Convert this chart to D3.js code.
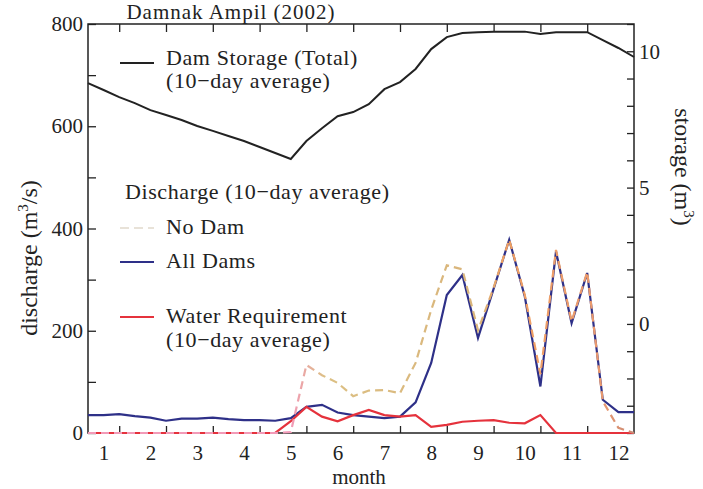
<!DOCTYPE html>
<html>
<head>
<meta charset="utf-8">
<script src="https://cdn.jsdelivr.net/npm/d3@7/dist/d3.min.js"></script>
<style>
  body { margin: 0; background: #fff; }
  svg { display: block; font-family: "Liberation Serif", "Times New Roman", serif; }
</style>
</head>
<body>
<svg id="chart"></svg>
<script>
// ── Data: 36 ten-day periods, Jan..Dec ────────────────────────────────────────
const period   = d3.range(1, 37);
const months   = ['1','2','3','4','5','6','7','8','9','10','11','12'];
const storage  = [8.83, 8.58, 8.32, 8.10, 7.84, 7.66, 7.48, 7.26, 7.08, 6.89, 6.71, 6.49,
                  6.27, 6.05, 6.71, 7.18, 7.62, 7.77, 8.06, 8.61, 8.87, 9.35, 10.08, 10.52,
                  10.67, 10.70, 10.72, 10.72, 10.72, 10.63, 10.70, 10.70, 10.70, 10.41, 10.12, 9.79];
const allDams  = [35, 35, 37, 33, 30, 24, 28, 28, 30, 27, 25, 25,
                  24, 29, 51, 55, 40, 35, 32, 29, 32, 60, 137, 270,
                  309, 186, 282, 378, 267, 91, 355, 215, 313, 65, 41, 41];
const noDam    = [0, 0, 0, 0, 0, 0, 0, 0, 0, 0, 0, 0,
                  0, 2, 133, 113, 98, 72, 83, 84, 78, 137, 241, 328,
                  320, 201, 284, 378, 270, 115, 358, 218, 315, 62, 10, 0];
const waterReq = [0, 0, 0, 0, 0, 0, 0, 0, 0, 0, 0, 0,
                  0, 23, 51, 32, 23, 35, 45, 35, 32, 35, 12, 16,
                  22, 24, 25, 20, 19, 35, 0, 0, 0, 0, 0, 0];
const leftTicks  = d3.range(0, 801, 100);
const rightTicks = d3.range(-4, 12, 1);

const W = 703, H = 489;
const m = { left: 88, right: 634, top: 24, bottom: 433 };

const svg = d3.select('#chart').attr('width', W).attr('height', H);

const x  = d3.scaleLinear().domain([1, 36]).range([m.left, m.right]);
const yL = d3.scaleLinear().domain([0, 800]).range([m.bottom, m.top]);
const yR = d3.scaleLinear().domain([-4, 11]).range([m.bottom, m.top]);

// gradient for the dashed "No Dam" line (pink -> tan -> orange)
const defs = svg.append('defs');
const grad = defs.append('linearGradient').attr('id', 'nodam')
    .attr('gradientUnits', 'userSpaceOnUse')
    .attr('x1', x(14)).attr('x2', x(36)).attr('y1', 0).attr('y2', 0);
[[0, '#f29ab8'], [0.1, '#dcc084'], [0.55, '#d9b47a'], [0.62, '#f0a060'],
 [0.9, '#eb9a6e'], [1, '#c98a76']].forEach(([o, c]) =>
    grad.append('stop').attr('offset', o).attr('stop-color', c));

// ── Axes ──────────────────────────────────────────────────────────────────────
const fs = 21;

const axL = svg.append('g').attr('transform', `translate(${m.left},0)`)
    .call(d3.axisLeft(yL).tickValues(leftTicks).tickSize(-8).tickPadding(5)
        .tickFormat(d => d % 200 === 0 ? d : ''));
const axR = svg.append('g').attr('transform', `translate(${m.right},0)`)
    .call(d3.axisRight(yR).tickValues(rightTicks).tickSize(-7).tickPadding(5)
        .tickFormat(d => d % 5 === 0 ? d : ''));
const axB = svg.append('g').attr('transform', `translate(0,${m.bottom})`)
    .call(d3.axisBottom(x).tickValues(d3.range(3, 34, 3)).tickSize(-7).tickFormat(''));
const axT = svg.append('g').attr('transform', `translate(0,${m.top})`)
    .call(d3.axisTop(x).tickValues(d3.range(3, 34, 3)).tickSize(-8).tickFormat(''));
const axM = svg.append('g').attr('transform', `translate(0,${m.bottom})`)
    .call(d3.axisBottom(x).tickValues(months.map((d, i) => 3 * i + 2)).tickSize(0)
        .tickPadding(12).tickFormat((d, i) => months[i]));

[axL, axR, axB, axT, axM].forEach(g => {
    g.select('.domain').remove();
    g.selectAll('line').attr('stroke', '#222').attr('stroke-width', 1.3);
    g.selectAll('text').attr('fill', '#222').style('font-size', fs + 'px')
        .style('font-family', '"Liberation Serif", serif');
});
axM.selectAll('text').attr('dy', '0.71em');

svg.append('rect')
    .attr('x', m.left).attr('y', m.top)
    .attr('width', m.right - m.left).attr('height', m.bottom - m.top)
    .attr('fill', 'none').attr('stroke', '#222').attr('stroke-width', 1.5);

// ── Lines ─────────────────────────────────────────────────────────────────────
const lineL = d3.line().x((d, i) => x(period[i])).y(d => yL(d));
const lineR = d3.line().x((d, i) => x(period[i])).y(d => yR(d));

svg.append('path').datum(storage).attr('d', lineR)
    .attr('fill', 'none').attr('stroke', '#222').attr('stroke-width', 2);
svg.append('path').datum(allDams).attr('d', lineL)
    .attr('fill', 'none').attr('stroke', '#2e3088').attr('stroke-width', 2.2);
svg.append('path').datum(waterReq).attr('d', lineL)
    .attr('fill', 'none').attr('stroke', '#e5323c').attr('stroke-width', 2.2);
svg.append('path').datum(noDam).attr('d', lineL)
    .attr('fill', 'none').attr('stroke', 'url(#nodam)').attr('stroke-width', 2.2)
    .attr('stroke-dasharray', '8,5');

// ── Legend ────────────────────────────────────────────────────────────────────
const lfs = 22;
function legendLine(yy, color, dash) {
    svg.append('line').attr('x1', 120).attr('x2', 154).attr('y1', yy).attr('y2', yy)
        .attr('stroke', color).attr('stroke-width', 2.2)
        .attr('stroke-dasharray', dash || null);
}
function label(xx, yy, txt) {
    return svg.append('text').attr('x', xx).attr('y', yy).attr('fill', '#222')
        .style('font-size', lfs + 'px').style('letter-spacing', '0.6px').text(txt);
}

legendLine(63, '#222');
label(166, 65, 'Dam Storage (Total)');
label(166, 88, '(10\u2212day average)');
label(125, 199, 'Discharge (10\u2212day average)');
legendLine(228, '#e8e2d8', '9,5');
label(166, 234, 'No Dam');
legendLine(262, '#2e3088');
label(166, 268, 'All Dams');
legendLine(317, '#e5323c');
label(166, 323, 'Water Requirement');
label(166, 347, '(10\u2212day average)');

// title
label(231, 19, 'Damnak Ampil (2002)').attr('text-anchor', 'middle')
    .style('letter-spacing', '1px').style('font-size', '21px');

// axis titles
svg.append('text').attr('x', 359).attr('y', 484).attr('text-anchor', 'middle')
    .attr('fill', '#222').style('font-size', '21px').text('month');

const tl = svg.append('text').attr('transform', 'translate(37,258) rotate(-90)')
    .attr('text-anchor', 'middle').attr('fill', '#222').style('font-size', '24px');
tl.append('tspan').text('discharge (m');
tl.append('tspan').attr('dy', -9).style('font-size', '15px').text('3');
tl.append('tspan').attr('dy', 9).text('/s)');

const tr = svg.append('text').attr('transform', 'translate(675,167) rotate(90)')
    .attr('text-anchor', 'middle').attr('fill', '#222').style('font-size', '24px');
tr.append('tspan').text('storage (m');
tr.append('tspan').attr('dy', -9).style('font-size', '15px').text('3');
tr.append('tspan').attr('dy', 9).text(')');
</script>
</body>
</html>
